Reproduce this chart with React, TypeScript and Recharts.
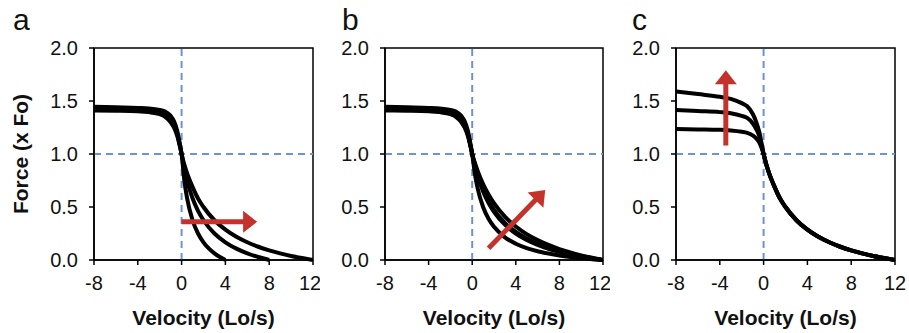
import React from "react";
import {
  LineChart,
  Line,
  XAxis,
  YAxis,
  ReferenceLine,
  ReferenceArea,
  Label,
} from "recharts";

// velocities (Lo/s)
const lengthV = [-8, -6, -4, -3, -2, -1.5, -1, -0.7, -0.4, -0.2];
const shortV12 = [0, 0.25, 0.5, 1, 1.5, 2, 3, 4, 5, 6, 7, 8, 9, 10, 11, 12];
const shortV8 = [0, 0.25, 0.5, 1, 1.5, 2, 3, 4, 5, 6, 7, 8];
const shortV4 = [0, 0.25, 0.5, 1, 1.5, 2, 2.5, 3, 3.5, 4];

// lengthening branch (x Fo), panels a and b
const lenA1 = [1.445, 1.44, 1.435, 1.43, 1.415, 1.4, 1.36, 1.31, 1.22, 1.12];
const lenA2 = [1.43, 1.425, 1.42, 1.41, 1.395, 1.375, 1.33, 1.28, 1.19, 1.1];
const lenA3 = [1.41, 1.408, 1.403, 1.395, 1.375, 1.35, 1.3, 1.25, 1.17, 1.09];

// lengthening branch, panel c
const lenC1 = [1.59, 1.565, 1.54, 1.52, 1.48, 1.45, 1.38, 1.31, 1.21, 1.11];
const lenC2 = [1.415, 1.405, 1.395, 1.385, 1.36, 1.34, 1.29, 1.24, 1.17, 1.09];
const lenC3 = [1.235, 1.232, 1.228, 1.222, 1.21, 1.2, 1.175, 1.15, 1.11, 1.06];

// shortening branch
const short12 = [1, 0.9, 0.82, 0.69, 0.58, 0.5, 0.375, 0.286, 0.219, 0.167, 0.125, 0.091, 0.062, 0.038, 0.018, 0];
const short8 = [1, 0.861, 0.75, 0.583, 0.464, 0.375, 0.25, 0.167, 0.107, 0.063, 0.028, 0];
const short4 = [1, 0.75, 0.583, 0.375, 0.25, 0.167, 0.107, 0.063, 0.028, 0];
const shortB1 = [1, 0.916, 0.841, 0.717, 0.618, 0.536, 0.409, 0.316, 0.244, 0.188, 0.142, 0.103, 0.071, 0.044, 0.021, 0];
const shortB2 = [1, 0.894, 0.806, 0.665, 0.558, 0.474, 0.351, 0.265, 0.202, 0.153, 0.114, 0.083, 0.057, 0.035, 0.016, 0];
const shortB3 = [1, 0.887, 0.793, 0.647, 0.538, 0.455, 0.333, 0.25, 0.189, 0.143, 0.106, 0.077, 0.053, 0.032, 0.015, 0];
const shortB4 = [1, 0.81, 0.676, 0.5, 0.389, 0.313, 0.214, 0.154, 0.113, 0.083, 0.061, 0.043, 0.029, 0.018, 0.008, 0];

const xTicks = [-8, -4, 0, 4, 8, 12];
const yTicks = [0, 0.5, 1, 1.5, 2];

const arrowA = [{ x: 0.0, y: 0.36 }, { x: 6.9, y: 0.36 }];
const arrowB = [{ x: 1.5, y: 0.11 }, { x: 6.7, y: 0.66 }];
const arrowC = [{ x: -3.45, y: 1.08 }, { x: -3.45, y: 1.79 }];

type Pt = { v: number; f: number };

const curve = (lv: number[], lf: number[], sv: number[], sf: number[]): Pt[] => [
  ...lv.map((v, i) => ({ v, f: lf[i] })),
  ...sv.map((v, i) => ({ v, f: sf[i] })),
];

const panelA = [
  curve(lengthV, lenA1, shortV12, short12),
  curve(lengthV, lenA2, shortV8, short8),
  curve(lengthV, lenA3, shortV4, short4),
];
const panelB = [
  curve(lengthV, lenA1, shortV12, shortB1),
  curve(lengthV, lenA2, shortV12, shortB2),
  curve(lengthV, lenA2, shortV12, shortB3),
  curve(lengthV, lenA3, shortV12, shortB4),
];
const panelC = [
  curve(lengthV, lenC1, shortV12, short12),
  curve(lengthV, lenC2, shortV12, short12),
  curve(lengthV, lenC3, shortV12, short12),
];

const RED = "#c4332b";
const DASH = "#6f93d2";
const FONT = "'Liberation Sans', Arial, Helvetica, sans-serif";

function Arrow(props: any) {
  const { x1, y1, x2, y2 } = props;
  const dx = x2 - x1;
  const dy = y2 - y1;
  const len = Math.sqrt(dx * dx + dy * dy) || 1;
  const ux = dx / len;
  const uy = dy / len;
  const headL = 14;
  const headW = 11;
  const bx = x2 - ux * headL;
  const by = y2 - uy * headL;
  const px = -uy;
  const py = ux;
  return (
    <g>
      <line x1={x1} y1={y1} x2={bx + ux} y2={by + uy} stroke={RED} strokeWidth={5} />
      <polygon
        points={`${x2},${y2} ${bx + px * headW},${by + py * headW} ${bx - px * headW},${by - py * headW}`}
        fill={RED}
      />
    </g>
  );
}

function Panel({
  curves,
  arrow,
  width,
  yAxisWidth,
  right,
}: {
  curves: Pt[][];
  arrow: { x: number; y: number }[];
  width: number;
  yAxisWidth: number;
  right: number;
}) {
  const tick = { fontSize: 20, fill: "#111", fontFamily: FONT };
  return (
    <LineChart
      width={width}
      height={333}
      margin={{ top: 48, right, bottom: 0, left: 0 }}
    >
      <XAxis
        type="number"
        dataKey="v"
        domain={[-8, 12]}
        ticks={xTicks}
        allowDataOverflow
        height={73}
        tick={tick}
        tickSize={5}
        tickMargin={11}
        axisLine={{ stroke: "#000", strokeWidth: 1.5 }}
        tickLine={{ stroke: "#000", strokeWidth: 1.5 }}
      >
        <Label
          value="Velocity (Lo/s)"
          position="insideBottom"
          offset={8}
          style={{ fontSize: 21, fontWeight: "bold", fill: "#111", fontFamily: FONT }}
        />
      </XAxis>
      <YAxis
        type="number"
        domain={[0, 2]}
        ticks={yTicks}
        width={yAxisWidth}
        tickFormatter={(v: number) => v.toFixed(1)}
        tick={tick}
        tickSize={5}
        tickMargin={11}
        axisLine={{ stroke: "#000", strokeWidth: 1.5 }}
        tickLine={{ stroke: "#000", strokeWidth: 1.5 }}
      />
      <ReferenceArea
        x1={-8}
        x2={12}
        y1={0}
        y2={2}
        fill="none"
        fillOpacity={0}
        stroke="#000"
        strokeWidth={1.5}
      />
      <ReferenceLine x={0} stroke={DASH} strokeWidth={2} strokeDasharray="7 5" />
      <ReferenceLine y={1} stroke={DASH} strokeWidth={2} strokeDasharray="7 5" />
      {curves.map((d, i) => (
        <Line
          key={i}
          data={d}
          dataKey="f"
          type="monotone"
          stroke="#000"
          strokeWidth={4}
          dot={false}
          activeDot={false}
          isAnimationActive={false}
        />
      ))}
      <ReferenceLine segment={arrow} shape={Arrow} ifOverflow="visible" />
    </LineChart>
  );
}

const letterStyle: React.CSSProperties = {
  position: "absolute",
  top: 5,
  fontSize: 30,
  lineHeight: "30px",
  fontFamily: FONT,
  color: "#111",
};

export default function App() {
  return (
    <div
      style={{
        position: "absolute",
        left: 0,
        top: 0,
        width: 909,
        height: 333,
        background: "#fff",
        overflow: "hidden",
      }}
    >
      <div style={{ position: "absolute", left: 0, top: 0 }}>
        <Panel curves={panelA} arrow={arrowA} width={320} yAxisWidth={94} right={7} />
      </div>
      <div style={{ position: "absolute", left: 320, top: 0 }}>
        <Panel curves={panelB} arrow={arrowB} width={290} yAxisWidth={65} right={7} />
      </div>
      <div style={{ position: "absolute", left: 610, top: 0 }}>
        <Panel curves={panelC} arrow={arrowC} width={299} yAxisWidth={66} right={14} />
      </div>
      <div style={{ ...letterStyle, left: 13 }}>a</div>
      <div style={{ ...letterStyle, left: 342 }}>b</div>
      <div style={{ ...letterStyle, left: 632 }}>c</div>
      <div
        style={{
          position: "absolute",
          left: 21,
          top: 154,
          transform: "translate(-50%, -50%) rotate(-90deg)",
          whiteSpace: "nowrap",
          fontSize: 21,
          fontWeight: "bold",
          fontFamily: FONT,
          color: "#111",
        }}
      >
        Force (x Fo)
      </div>
    </div>
  );
}
